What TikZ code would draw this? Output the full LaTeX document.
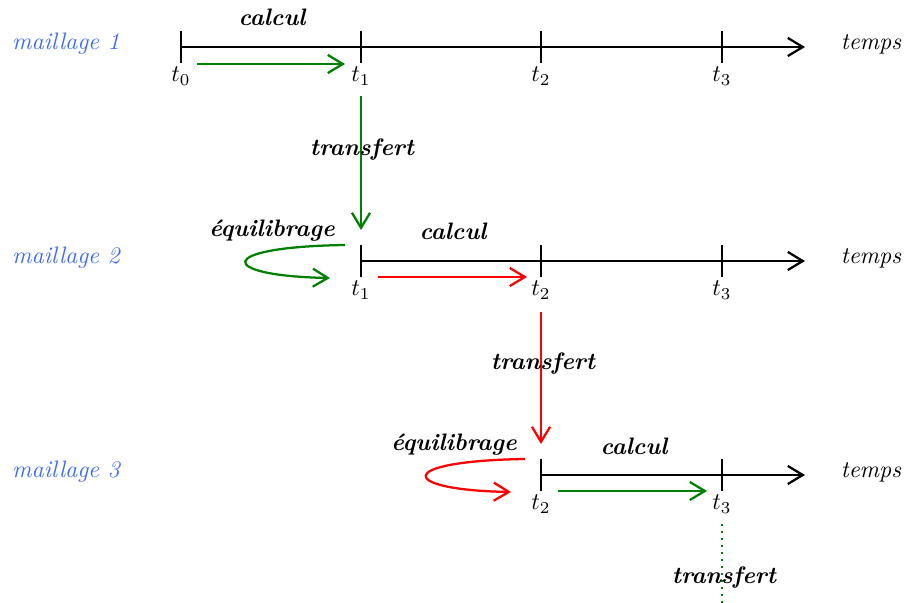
\documentclass[tikz,border=0pt]{standalone}
\usepackage{tikz}
\usepackage{xcolor}
\usetikzlibrary{arrows.meta}

\definecolor{meshblue}{rgb}{0.25,0.42,1}
\definecolor{darkgreen}{rgb}{0,0.5,0}

\tikzset{
    axis/.style={line width=0.95pt, -{Straight Barb[length=6.3pt,width=7.6pt]}},
    tick/.style={line width=0.95pt},
    flow/.style={line width=0.95pt, -{Straight Barb[length=6.3pt,width=7.6pt]}},
    phase/.style={font=\bfseries\itshape},
    mesh/.style={font=\itshape, text=meshblue},
}

\begin{document}
\begin{tikzpicture}[x=0.42pt, y=-0.42pt]
    \useasboundingbox (0,0) rectangle (912,603);

    % maillage 1
    \node[mesh] (m1) at (66,44) {maillage 1};
    \node[font=\itshape] (temps1) at (871,44) {temps};
    \coordinate (a1) at (181,47);
    \coordinate (e1) at (805,47);
    \draw[axis] (a1) -- (e1);
    \foreach \x/\i in {181/0, 361/1, 541/2, 722/3} {
        \draw[tick] (\x,31) -- (\x,63);
        \node (t1\i) at (\x,76) {$t_{\i}$};
    }
    \node[phase] (calc1) at (272,17) {calcul};
    \coordinate (c1s) at (197,64);
    \coordinate (c1e) at (345,64);
    \draw[flow, darkgreen] (c1s) -- (c1e);

    % transfert 1 -> 2
    \coordinate (tr1s) at (361,96);
    \coordinate (tr1e) at (361,230);
    \draw[flow, darkgreen] (tr1s) -- (tr1e);
    \node[phase] (tr1) at (362,150) {transfert};

    % maillage 2
    \node[mesh] (m2) at (66,258) {maillage 2};
    \node[font=\itshape] (temps2) at (871,258) {temps};
    \coordinate (a2) at (361,261);
    \coordinate (e2) at (805,261);
    \draw[axis] (a2) -- (e2);
    \foreach \x/\i in {361/1, 541/2, 722/3} {
        \draw[tick] (\x,245) -- (\x,277);
        \node (t2\i) at (\x,290) {$t_{\i}$};
    }
    \node[phase] (eq2) at (272,231) {équilibrage};
    \node[phase] (calc2) at (453,231) {calcul};
    \coordinate (q2s) at (345,245);
    \coordinate (q2e) at (330,278);
    \draw[flow, darkgreen] (q2s) .. controls (212,247) and (218,276) .. (q2e);
    \coordinate (c2s) at (378,277);
    \coordinate (c2e) at (527,277);
    \draw[flow, red] (c2s) -- (c2e);

    % transfert 2 -> 3
    \coordinate (tr2s) at (541,312);
    \coordinate (tr2e) at (541,444);
    \draw[flow, red] (tr2s) -- (tr2e);
    \node[phase] (tr2) at (543,364) {transfert};

    % maillage 3
    \node[mesh] (m3) at (66,472) {maillage 3};
    \node[font=\itshape] (temps3) at (871,472) {temps};
    \coordinate (a3) at (541,475);
    \coordinate (e3) at (805,475);
    \draw[axis] (a3) -- (e3);
    \foreach \x/\i in {541/2, 722/3} {
        \draw[tick] (\x,459) -- (\x,491);
        \node (t3\i) at (\x,504) {$t_{\i}$};
    }
    \node[phase] (eq3) at (454,445) {équilibrage};
    \node[phase] (calc3) at (634,446) {calcul};
    \coordinate (q3s) at (525,459);
    \coordinate (q3e) at (511,492);
    \draw[flow, red] (q3s) .. controls (393,461) and (398,490) .. (q3e);
    \coordinate (c3s) at (558,491);
    \coordinate (c3e) at (707,491);
    \draw[flow, darkgreen] (c3s) -- (c3e);

    % transfert suivant
    \coordinate (tr3s) at (722,524);
    \coordinate (tr3e) at (722,603);
    \draw[line width=0.95pt, dotted, darkgreen] (tr3s) -- (tr3e);
    \node[phase] (tr3) at (724,578) {transfert};
\end{tikzpicture}
\end{document}
